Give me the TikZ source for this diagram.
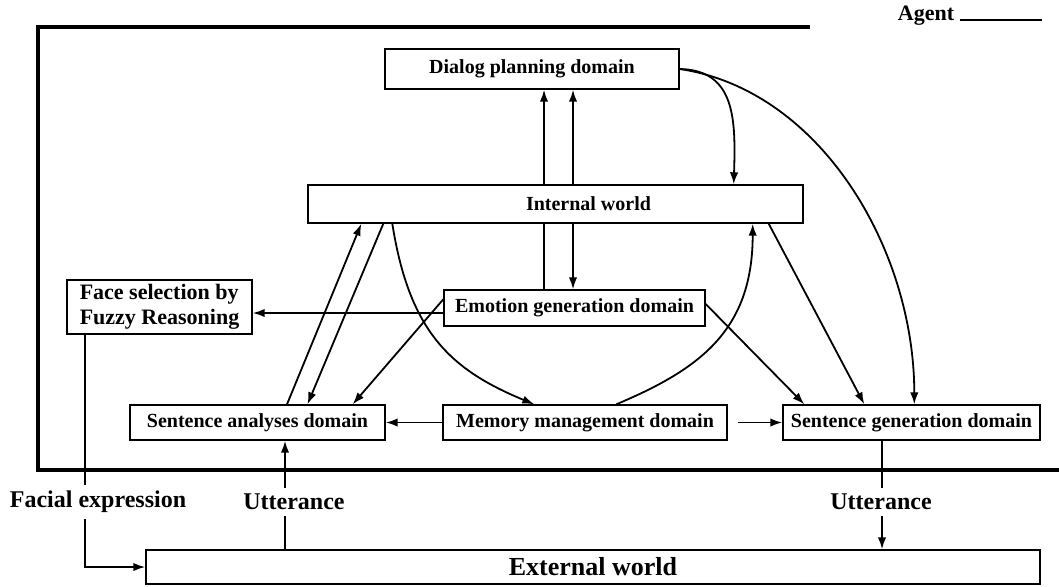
\documentclass[tikz,border=0pt]{standalone}
\usepackage{fontspec}
\setmainfont{Liberation Serif}
\usetikzlibrary{positioning,arrows.meta}

\begin{document}
\begin{tikzpicture}[x=0.5pt,y=-0.5pt,>={Latex[length=6pt,width=4.2pt]},line width=0.9pt]
\useasboundingbox (0,0) rectangle (1059,586);

  \draw[line width=1.6pt] (810,27) -| (38,470) -- (1059,470);
  \node[font=\bfseries\fontsize{11}{13}\selectfont,anchor=base east,inner sep=1pt] (agent) at (957,20) {Agent};
  \draw[line width=1.2pt] (agent.base east) ++(3,0) -- ++(82,0);

\begin{scope}[every node/.style={draw,line width=0.7pt,font=\bfseries\fontsize{10}{12}\selectfont,minimum height=18pt,inner sep=2pt}]
  \node[minimum width=147pt,minimum height=20pt] (dialog) at (532,69) {Dialog planning domain};
  \node[minimum width=247.5pt,minimum height=19pt] (internal) at (555.5,204) {\hspace*{33pt}Internal world};
  \node[minimum width=130.5pt] (emotion) at (574.5,308) {Emotion generation domain};
  \node[minimum width=92.5pt,minimum height=27pt,align=left,font=\bfseries\fontsize{11}{12.5}\selectfont] (face) at (159.5,307) {Face selection by\\Fuzzy Reasoning};
  \node[minimum width=127.5pt,minimum height=17.5pt] (analyses) at (257.5,422.5) {Sentence analyses domain};
  \node[minimum width=142pt,minimum height=17.5pt] (memory) at (585,422.5) {Memory management domain};
  \node[minimum width=128.5pt,minimum height=17.5pt] (generation) at (911.5,422.5) {Sentence generation domain};
  \node[minimum width=447pt,minimum height=17pt,font=\bfseries\fontsize{13}{15}\selectfont] (external) at (593,567) {External world};
\end{scope}

  \coordinate (xa) at (544,0);
  \coordinate (xb) at (573,0);
  \coordinate (yf) at (0,313);
  \coordinate (uin) at ([xshift=13.75pt]analyses.south);
  \coordinate (uout) at ([xshift=-14.75pt]generation.south);

  \draw[->] (internal.north -| xa) -- (dialog.south -| xa);
  \draw[->] (internal.north -| xb) -- (dialog.south -| xb);
  \draw (emotion.north -| xa) -- (internal.south -| xa);
  \draw[->] (internal.south -| xb) -- (emotion.north -| xb);
  \draw[->] (emotion.west |- yf) -- (face.east |- yf);
  \draw[->] ([xshift=14.75pt]analyses.north) -- ([xshift=27pt]internal.south west);
  \draw[->] ([xshift=38pt]internal.south west) -- ([xshift=25pt]analyses.north);
  \draw[->] ([xshift=42.5pt]internal.south west) .. controls +(17,107) and +(-85,-35) .. ([xshift=46pt]memory.north west);
  \draw[->] ([yshift=-5pt]emotion.north west) -- ([xshift=-16.5pt]analyses.north east);
  \draw[->] ([xshift=87pt]memory.north west) .. controls +(83,-35) and +(0,107) .. ([xshift=-25.5pt]internal.south east);
  \draw[->] ([yshift=2pt]emotion.east) -- ([xshift=11pt]generation.north west);
  \draw[->] ([xshift=-17.5pt]internal.south east) -- ([xshift=41pt]generation.north west);
  \draw[->] (dialog.east) .. controls +(56,1) and +(2,-64) .. ([xshift=-35pt]internal.north east);
  \draw[->] (dialog.east) .. controls +(141,21) and +(0,-155) .. ([xshift=66pt]generation.north west);
  \draw[->] (memory.west) -- (analyses.east);
  \draw[->] ([xshift=5pt]memory.east) -- (generation.west);
  \draw[->] ([xshift=9.5pt]face.south west) |- (external.west);
  \draw[->] (uin |- external.north) -- (uin);
  \draw[->] (uout) -- (uout |- external.north);

  \foreach \n/\x/\t in {facial/98/Facial expression,uttin/294/Utterance,uttout/881/Utterance} {
    \node[fill=white,font=\bfseries\fontsize{12}{14}\selectfont,inner xsep=1pt,inner ysep=3pt] (lbl-\n) at (\x,502) {\t};
  }

\end{tikzpicture}
\end{document}
